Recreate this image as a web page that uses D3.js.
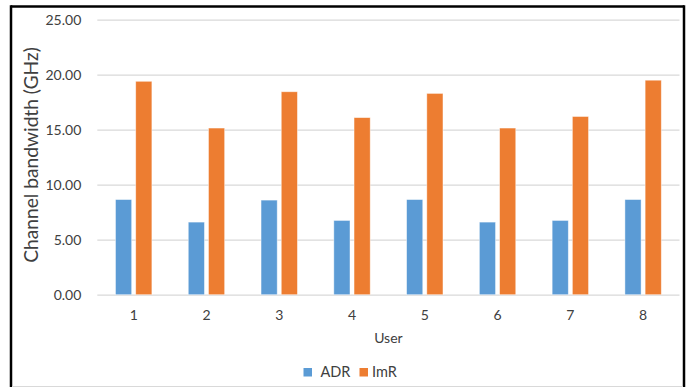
<!DOCTYPE html>
<html>
<head>
<meta charset="utf-8">
<script src="https://cdn.jsdelivr.net/npm/d3@7"></script>
<style>
  html, body { margin: 0; padding: 0; background: #fff; }
  svg { display: block; font-family: Lato, "Open Sans", sans-serif; }
</style>
</head>
<body>
<svg id="chart" width="696" height="387"></svg>
<script>
// Channel bandwidth per user for the two schemes
const users = ["1", "2", "3", "4", "5", "6", "7", "8"];
const seriesNames = ["ADR", "ImR"];
const adrValues = [8.65, 6.6, 8.6, 6.75, 8.65, 6.6, 6.75, 8.65];
const imrValues = [19.4, 15.15, 18.45, 16.1, 18.3, 15.15, 16.2, 19.5];
const yTicks = [0, 5, 10, 15, 20, 25];
const colors = ["#5B9BD5", "#ED7D31"];

const seriesValues = [adrValues, imrValues];
const rows = users.map((u, i) => ({
  user: u,
  values: seriesNames.map((s, k) => ({ series: s, k, value: seriesValues[k][i] }))
}));

const svg = d3.select("#chart");
const margin = { left: 97.3, right: 679.5, top: 19.7, bottom: 294.7 };

const x = d3.scaleBand().domain(users).range([margin.left, margin.right]).paddingInner(0).paddingOuter(0);
const y = d3.scaleLinear().domain([0, 25]).range([margin.bottom, margin.top]);

// inner band for the two bars of each user (Excel-like gap width)
const groupWidth = x.bandwidth() * 0.5;
const xs = d3.scaleBand().domain(seriesNames).range([0, groupWidth]).paddingInner(0.2);

// outer frame
const frame = svg.append("g");
frame.append("line").attr("x1", 11).attr("x2", 684).attr("y1", 6.5).attr("y2", 6.5)
  .attr("stroke", "#000").attr("stroke-width", 2.5);
frame.append("line").attr("x1", 11).attr("x2", 11).attr("y1", 5.3).attr("y2", 387)
  .attr("stroke", "#000").attr("stroke-width", 2.5);
frame.append("line").attr("x1", 684).attr("x2", 684).attr("y1", 5.3).attr("y2", 387)
  .attr("stroke", "#000").attr("stroke-width", 2.5);
frame.append("line").attr("x1", 12).attr("x2", 683).attr("y1", 386.5).attr("y2", 386.5)
  .attr("stroke", "#d9d9d9").attr("stroke-width", 1);

// gridlines + y tick labels
const yAxis = d3.axisLeft(y).tickValues(yTicks).tickFormat(d3.format(".2f"))
  .tickSize(-(margin.right - margin.left)).tickPadding(16);
const gy = svg.append("g").attr("transform", `translate(${margin.left},0)`).call(yAxis);
gy.select(".domain").remove();
gy.selectAll(".tick line").attr("stroke", "#d9d9d9").attr("stroke-width", 1.3);
gy.selectAll(".tick text").attr("fill", "#404040").style("font-size", "14px")
  .style("font-family", "Lato, sans-serif");

// x axis labels
const xAxis = d3.axisBottom(x).tickSize(0).tickPadding(15);
const gx = svg.append("g").attr("transform", `translate(0,${margin.bottom})`).call(xAxis);
gx.select(".domain").remove();
gx.selectAll(".tick text").attr("fill", "#404040").style("font-size", "14px")
  .style("font-family", "Lato, sans-serif");

// bars
const groups = svg.append("g").selectAll("g").data(rows).join("g")
  .attr("transform", d => `translate(${x(d.user) + (x.bandwidth() - groupWidth) / 2},0)`);
groups.selectAll("rect").data(d => d.values).join("rect")
  .attr("x", d => xs(d.series))
  .attr("width", xs.bandwidth())
  .attr("y", d => y(d.value))
  .attr("height", d => y(0) - y(d.value))
  .attr("fill", d => colors[d.k])
  .attr("stroke", "#fff").attr("stroke-opacity", 0.55).attr("stroke-width", 0.8);

// axis titles
svg.append("text").attr("x", (margin.left + margin.right) / 2).attr("y", 343)
  .attr("text-anchor", "middle").attr("fill", "#404040")
  .style("font-size", "14px").text("User");
svg.append("text").attr("transform", "translate(37.5,155) rotate(-90)")
  .attr("text-anchor", "middle").attr("fill", "#404040")
  .style("font-size", "19.2px").text("Channel bandwidth (GHz)");

// legend
const legendItems = [
  { name: seriesNames[0], color: colors[0], x: 303.5 },
  { name: seriesNames[1], color: colors[1], x: 359.5 }
];
const lg = svg.append("g").selectAll("g").data(legendItems).join("g")
  .attr("transform", d => `translate(${d.x},368)`);
lg.append("rect").attr("width", 8.5).attr("height", 8.5).attr("fill", d => d.color);
lg.append("text").attr("x", d => d.name === "ADR" ? 17 : 12.5).attr("y", 9)
  .attr("fill", "#404040").style("font-size", "14.5px").text(d => d.name);
</script>
</body>
</html>
